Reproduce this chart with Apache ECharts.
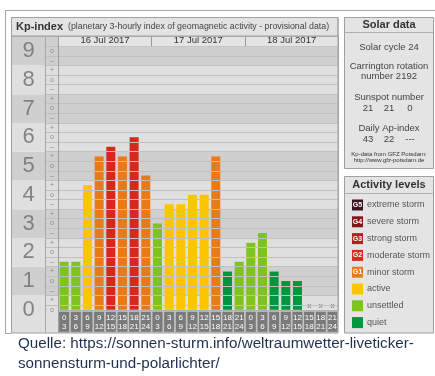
<!DOCTYPE html>
<html><head><meta charset="utf-8">
<script src="https://cdn.jsdelivr.net/npm/echarts@6/dist/echarts.min.js"></script>
<style>html,body{margin:0;padding:0;background:#fff;}#c{width:435px;height:376px;}</style>
</head><body><div id="c"></div>
<script>
// ---- data ----
const days = ['16 Jul 2017', '17 Jul 2017', '18 Jul 2017'];
const hourStart = ['0','3','6','9','12','15','18','21','0','3','6','9','12','15','18','21','0','3','6','9','12','15','18','21'];
const hourEnd   = ['3','6','9','12','15','18','21','24','3','6','9','12','15','18','21','24','3','6','9','12','15','18','21','24'];
const kpDay1 = [1.67, 1.67, 4.33, 5.33, 5.67, 5.33, 6.00, 4.67];
const kpDay2 = [3.00, 3.67, 3.67, 4.00, 4.00, 5.33, 1.33, 1.67];
const kpDay3 = [2.33, 2.67, 1.33, 1.00, 1.00, null, null, null];
const kpTicks = [0,1,2,3,4,5,6,7,8,9];
const levelNames = ['extreme storm','severe storm','strong storm','moderate storm','minor storm','active','unsettled','quiet'];
const levelTags  = ['G5','G4','G3','G2','G1','','',''];
const levelColors = ['#3a1424','#7e1a1a','#b3211c','#d8281d','#e87a18','#fcc500','#7fc31e','#00963f'];
const levelMin = [8.5, 7.5, 6.5, 5.5, 4.5, 3.5, 1.5, -1];
const solarCycle = 24, carrington = 2192;
const sunspot = ['21','21','0'];
const apIndex = ['43','22','---'];

// ---- layout ----
const FONT = 'Liberation Sans, Arial, sans-serif';
const PPU = 28.75, Y0 = 309.8, BOT = 333;
const MAXBAR = 55/6, MAXLAB = 9.5;
const labMin = -(BOT - Y0) / PPU;
const kpAll = kpDay1.concat(kpDay2, kpDay3);
const slots = hourStart.map((s, i) => s + '-' + hourEnd[i] + '#' + i);

function colorFor(v){ for (let i=0;i<levelMin.length;i++) if (v >= levelMin[i]) return levelColors[i]; return levelColors[7]; }
function bands(){
  return kpTicks.map(n => [{yAxis: n===0 ? -1 : n-0.5, itemStyle:{color: n%2 ? '#cfcfcf' : '#dfdfdf'}}, {yAxis: n+0.5}]);
}
function lines(maxV){
  const out=[]; for(let k=0;k<28;k++){ const v=(k+0.5)/3; if (v < maxV - 0.01) out.push({yAxis:v}); } return out;
}
const markLineStyle = {silent:true, symbol:'none', label:{show:false}, lineStyle:{color:'#c0c0c0', width:1, type:'solid'}, animation:false};

const chart = echarts.init(document.getElementById('c'), null, {renderer:'canvas'});

const gfx = [];
// outer frame
gfx.push({type:'line', shape:{x1:5,y1:10.5,x2:435,y2:10.5}, style:{stroke:'#a8a8a8',lineWidth:1}, z:50});
gfx.push({type:'line', shape:{x1:5.5,y1:10,x2:5.5,y2:BOT}, style:{stroke:'#a8a8a8',lineWidth:1}, z:50});
gfx.push({type:'line', shape:{x1:5,y1:BOT+0.5,x2:11,y2:BOT+0.5}, style:{stroke:'#a8a8a8',lineWidth:1}, z:50});
// title row
gfx.push({type:'rect', shape:{x:11.5,y:17.5,width:326.5,height:18.5}, style:{fill:'#e3e3e3',stroke:'#a0a0a0',lineWidth:1}, z:-5});
gfx.push({type:'text', x:16, y:26.5, style:{text:'Kp-index', font:'bold 11px '+FONT, fill:'#333', textVerticalAlign:'middle'}, z:5});
gfx.push({type:'text', x:68, y:26.5, style:{text:'(planetary 3-hourly index of geomagnetic activity - provisional data)', font:'8.8px '+FONT, fill:'#444', textVerticalAlign:'middle'}, z:5});
// header row
gfx.push({type:'rect', shape:{x:58.3,y:36.5,width:280,height:9.8}, style:{fill:'#e4e4e4'}, z:-5});
// hour label row background
gfx.push({type:'rect', shape:{x:58.3,y:Y0,width:280,height:BOT-Y0}, style:{fill:'#c4c4c4'}, z:-5});
// main box outline
gfx.push({type:'rect', shape:{x:11.5,y:17.5,width:326.5,height:BOT-17.5}, style:{fill:'none',stroke:'#a0a0a0',lineWidth:1}, z:60});
gfx.push({type:'line', shape:{x1:45.5,y1:36.5,x2:45.5,y2:BOT}, style:{stroke:'#a8a8a8',lineWidth:1}, z:60});
gfx.push({type:'line', shape:{x1:58.5,y1:36.5,x2:58.5,y2:BOT}, style:{stroke:'#a0a0a0',lineWidth:1}, z:60});
gfx.push({type:'line', shape:{x1:11,y1:36.5,x2:338,y2:36.5}, style:{stroke:'#a8a8a8',lineWidth:1}, z:60});

// solar data box
gfx.push({type:'rect', shape:{x:344.5,y:17.5,width:89,height:151}, style:{fill:'#e4e4e4',stroke:'#a0a0a0',lineWidth:1}, z:-5});
gfx.push({type:'line', shape:{x1:344.5,y1:32.5,x2:433.5,y2:32.5}, style:{stroke:'#b0b0b0',lineWidth:1}, z:5});
const cx = 389;
function ctext(t, y, font, fill){ gfx.push({type:'text', x:cx, y:y, style:{text:t, font:font, fill:fill||'#444', textAlign:'center', textVerticalAlign:'middle'}, z:5}); }
ctext('Solar data', 25, 'bold 11px '+FONT, '#333');
ctext('Solar cycle ' + solarCycle, 47, '9.5px '+FONT);
ctext('Carrington rotation', 66, '9.5px '+FONT);
ctext('number ' + carrington, 76.5, '9.5px '+FONT);
ctext('Sunspot number', 97.5, '9.5px '+FONT);
ctext('Daily Ap-index', 128.5, '9.5px '+FONT);
const colX = [368, 389, 410];
sunspot.forEach((s,i)=>gfx.push({type:'text', x:colX[i], y:108, style:{text:s, font:'9.5px '+FONT, fill:'#444', textAlign:'center', textVerticalAlign:'middle'}, z:5}));
apIndex.forEach((s,i)=>gfx.push({type:'text', x:colX[i], y:139, style:{text:s, font:'9.5px '+FONT, fill:'#444', textAlign:'center', textVerticalAlign:'middle'}, z:5}));
ctext('Kp-data from GFZ Potsdam:', 154, '6px '+FONT, '#333');
ctext('http://www.gfz-potsdam.de', 160.5, '6px '+FONT, '#333');

// activity levels box
gfx.push({type:'rect', shape:{x:344.5,y:176.5,width:89,height:BOT-176.5}, style:{fill:'#e4e4e4',stroke:'#a0a0a0',lineWidth:1}, z:-5});
gfx.push({type:'line', shape:{x1:344.5,y1:193.5,x2:433.5,y2:193.5}, style:{stroke:'#b0b0b0',lineWidth:1}, z:5});
ctext('Activity levels', 185, 'bold 11px '+FONT, '#333');
levelNames.forEach((nm,i)=>{
  const y = 205 + i*16.8;
  gfx.push({type:'rect', shape:{x:352,y:y-5.5,width:11,height:11}, style:{fill:levelColors[i]}, z:5});
  if (levelTags[i]) gfx.push({type:'text', x:357.5, y:y, style:{text:levelTags[i], font:'bold 7px '+FONT, fill:'#fff', textAlign:'center', textVerticalAlign:'middle'}, z:6});
  gfx.push({type:'text', x:367, y:y, style:{text:nm, font:'9px '+FONT, fill:'#555', textVerticalAlign:'middle'}, z:5});
});

// source text
gfx.push({type:'text', x:18, y:344, style:{text:'Quelle: https://sonnen-sturm.info/weltraumwetter-liveticker-', font:'15.2px '+FONT, fill:'#1f2f4f', textVerticalAlign:'middle'}, z:5});
gfx.push({type:'text', x:18, y:364, style:{text:'sonnensturm-und-polarlichter/', font:'15.2px '+FONT, fill:'#1f2f4f', textVerticalAlign:'middle'}, z:5});

const option = {
  animation:false,
  grid:[
    {left:58.3, top:Y0-MAXBAR*PPU, width:280, height:MAXBAR*PPU, containLabel:false},
    {left:11.5, top:Y0-MAXLAB*PPU, width:34, height:BOT-(Y0-MAXLAB*PPU), containLabel:false},
    {left:45.5, top:Y0-MAXLAB*PPU, width:13, height:BOT-(Y0-MAXLAB*PPU), containLabel:false}
  ],
  xAxis:[
    {type:'category', gridIndex:0, data:slots, boundaryGap:true,
     axisLine:{show:true, lineStyle:{color:'#b0b0b0'}}, axisTick:{show:false}, splitLine:{show:false},
     axisLabel:{interval:0, formatter:(v,i)=>hourStart[i]+'\n'+hourEnd[i], color:'#fff', fontFamily:FONT, fontSize:8, lineHeight:9,
       backgroundColor:'#7a7a7a', width:10, height:19, padding:[1,0,0,0], align:'center', verticalAlign:'top', margin:2}},
    {type:'category', gridIndex:0, position:'top', data:days, boundaryGap:true,
     axisLine:{show:true, lineStyle:{color:'#a8a8a8'}}, axisTick:{show:true, length:10, lineStyle:{color:'#999'}},
     splitLine:{show:true, interval:0, lineStyle:{color:'#9a9a9a', width:1}},
     axisLabel:{color:'#333', fontFamily:FONT, fontSize:9.5, margin:1}},
    {type:'value', gridIndex:1, min:0, max:1, show:false},
    {type:'value', gridIndex:2, min:0, max:1, show:false}
  ],
  yAxis:[
    {type:'value', gridIndex:0, min:0, max:MAXBAR, axisLine:{show:false}, axisTick:{show:false}, axisLabel:{show:false}, splitLine:{show:false}},
    {type:'value', gridIndex:1, min:labMin, max:MAXLAB, show:false},
    {type:'value', gridIndex:2, min:labMin, max:MAXLAB, show:false}
  ],
  series:[
    {type:'line', xAxisIndex:0, yAxisIndex:0, data:[], z:1, silent:true,
     markArea:{silent:true, data:bands()}, markLine:Object.assign({data:lines(MAXBAR)}, markLineStyle)},
    {type:'bar', xAxisIndex:0, yAxisIndex:0, data:kpAll, barWidth:9, z:3,
     itemStyle:{color:p=>colorFor(p.value)}},
    {type:'scatter', xAxisIndex:0, yAxisIndex:0, z:4, symbolSize:0,
     data:kpAll.map((v,i)=>v==null?[i,0]:null).filter(d=>d),
     label:{show:true, position:'top', distance:0, formatter:'x', fontSize:8, color:'#555', fontFamily:FONT}},
    {type:'line', xAxisIndex:2, yAxisIndex:1, data:[], z:1, silent:true, markArea:{silent:true, data:bands()}},
    {type:'scatter', xAxisIndex:2, yAxisIndex:1, z:4, symbolSize:0, data:kpTicks.map(n=>[0.5,n]),
     label:{show:true, position:'inside', formatter:p=>String(p.value[1]), fontSize:22, color:'#6c6c6c', fontFamily:FONT}},
    {type:'line', xAxisIndex:3, yAxisIndex:2, data:[], z:1, silent:true,
     markArea:{silent:true, data:bands()}, markLine:Object.assign({data:lines(MAXLAB)}, markLineStyle)},
    {type:'scatter', xAxisIndex:3, yAxisIndex:2, z:4, symbolSize:0,
     data:Array.from({length:28},(_,k)=>[0.5,k/3]),
     label:{show:true, position:'inside', formatter:p=>['o','+','\u2013'][Math.round(p.value[1]*3)%3], fontSize:7, color:'#777', fontFamily:FONT}}
  ],
  graphic:{elements:gfx}
};
chart.setOption(option);
</script></body></html>
